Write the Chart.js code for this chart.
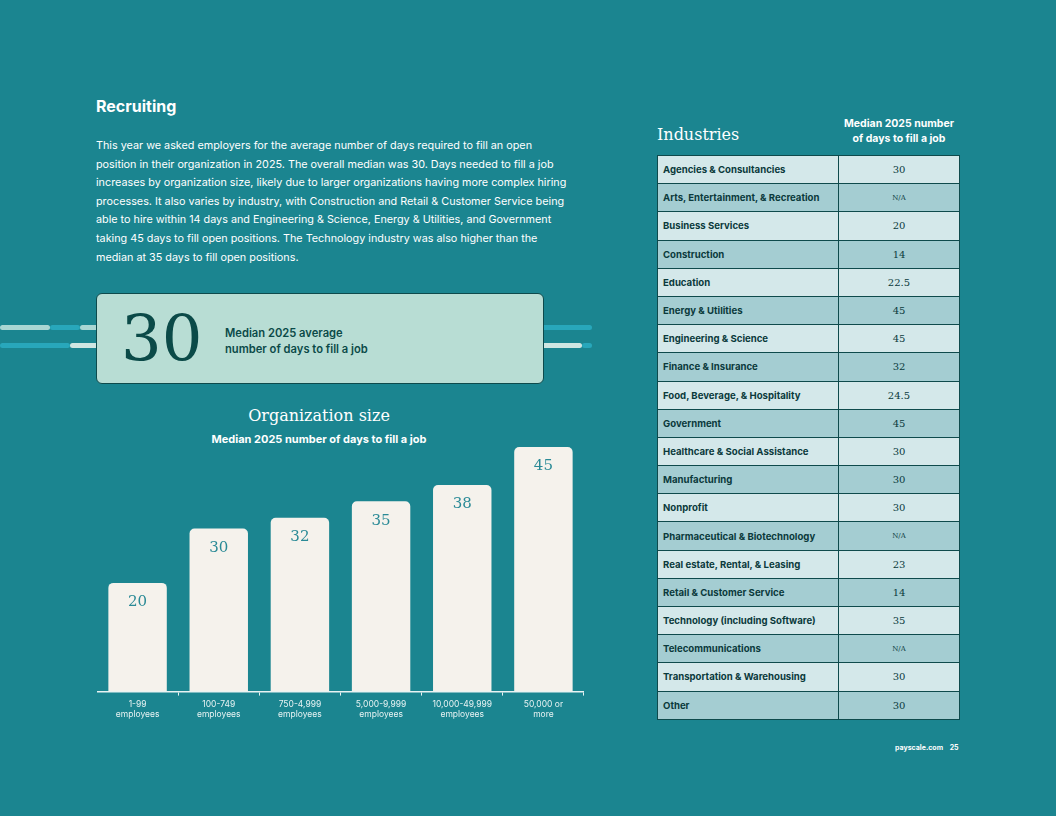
<!DOCTYPE html>
<html><head><meta charset="utf-8">
<script src="https://cdn.jsdelivr.net/npm/chart.js@4"></script>
<style>
  body { margin:0; width:1056px; height:816px; background:#1b8590; font-family:Inter, sans-serif; position:relative; overflow:hidden; }
  .abs { position:absolute; }
  h1 { position:absolute; left:96px; top:96px; margin:0; font-size:16px; color:#fff; font-weight:700; }
  .intro { left:96px; top:137px; white-space:nowrap; color:#fff; font-size:10.8px; line-height:18.6px; }
  .stat { left:96px; top:293px; width:446px; height:89px; background:#b8ddd4; border:1px solid #0e4a4c; border-radius:6px; }
  .stat .big { position:absolute; left:24px; top:8px; font-family:"DejaVu Serif", serif; font-size:64px; color:#0b4a48; }
  .stat .lbl { position:absolute; left:128px; top:31px; font-size:11.2px; font-weight:600; color:#0b4a48; line-height:16px; }
  .line { height:5px; border-radius:3px; }
  .ctitle { left:97px; width:444px; text-align:center; color:#fff; }
  table { position:absolute; left:657px; top:155px; width:303px; border-collapse:collapse; }
  td { border:1px solid #0e4a4c; height:27.2px; padding:0 5px; font-size:9.6px; color:#0b3a3c; }
  td:first-child { font-weight:700; width:170px; }
  td:last-child { text-align:center; font-family:"DejaVu Serif", serif; font-size:10px; }
  td.na { font-size:7px; }
  tr:nth-child(odd) td { background:#d4e8ea; }
  tr:nth-child(even) td { background:#a4cdd2; }
</style></head>
<body>
<h1>Recruiting</h1>
<div class="abs intro">This year we asked employers for the average number of days required to fill an open<br>position in their organization in 2025. The overall median was 30. Days needed to fill a job<br>increases by organization size, likely due to larger organizations having more complex hiring<br>processes. It also varies by industry, with Construction and Retail &amp; Customer Service being<br>able to hire within 14 days and Engineering &amp; Science, Energy &amp; Utilities, and Government<br>taking 45 days to fill open positions. The Technology industry was also higher than the<br>median at 35 days to fill open positions.</div>

<div class="abs line" style="left:0;top:325px;width:50px;background:#a9d6d3"></div>
<div class="abs line" style="left:50px;top:325px;width:30px;background:#28a7bb"></div>
<div class="abs line" style="left:80px;top:325px;width:20px;background:#a9d6d3"></div>
<div class="abs line" style="left:0;top:343px;width:70px;background:#28a7bb"></div>
<div class="abs line" style="left:70px;top:343px;width:30px;background:#cfe6e2"></div>
<div class="abs line" style="left:540px;top:325px;width:52px;background:#28a7bb"></div>
<div class="abs line" style="left:540px;top:343px;width:42px;background:#cfe6e2"></div>
<div class="abs line" style="left:582px;top:343px;width:10px;background:#28a7bb"></div>

<div class="abs stat"><div class="big">30</div><div class="lbl">Median 2025 average<br>number of days to fill a job</div></div>

<div class="abs ctitle" style="top:406px;font-family:'DejaVu Serif',serif;font-size:16px;">Organization size</div>
<div class="abs ctitle" style="top:432px;font-size:11px;font-weight:700;">Median 2025 number of days to fill a job</div>

<div class="abs" style="left:97px;top:447px;width:487px;height:277px;"><canvas id="c"></canvas></div>

<div class="abs" style="left:657px;top:125px;font-family:'DejaVu Serif',serif;font-size:16px;color:#fff;">Industries</div>
<div class="abs" style="left:838px;top:116px;width:122px;text-align:center;color:#fff;font-size:10.5px;font-weight:700;line-height:15px;">Median 2025 number of days to fill a job</div>
<table id="t"></table>

<div class="abs" style="left:895px;top:743px;color:#fff;font-size:7px;font-weight:700;">payscale.com &nbsp;&nbsp; 25</div>

<script>
const sizeLabels = [['1-99','employees'],['100-749','employees'],['750-4,999','employees'],['5,000-9,999','employees'],['10,000-49,999','employees'],['50,000 or','more']];
const sizeDays = [20, 30, 32, 35, 38, 45];

const industries = ['Agencies & Consultancies','Arts, Entertainment, & Recreation','Business Services','Construction','Education','Energy & Utilities','Engineering & Science','Finance & Insurance','Food, Beverage, & Hospitality','Government','Healthcare & Social Assistance','Manufacturing','Nonprofit','Pharmaceutical & Biotechnology','Real estate, Rental, & Leasing','Retail & Customer Service','Technology (including Software)','Telecommunications','Transportation & Warehousing','Other'];
const industryDays = ['30','N/A','20','14','22.5','45','45','32','24.5','45','30','30','30','N/A','23','14','35','N/A','30','30'];

const t = document.getElementById('t');
industries.forEach((name, i) => {
  const tr = document.createElement('tr');
  const a = document.createElement('td'); a.textContent = name;
  const b = document.createElement('td'); b.textContent = industryDays[i];
  if (industryDays[i] === 'N/A') b.className = 'na';
  tr.append(a, b); t.append(tr);
});

const valueLabels = {
  id: 'valueLabels',
  afterDatasetsDraw(chart) {
    const ctx = chart.ctx;
    ctx.save();
    ctx.fillStyle = '#2a8a96';
    ctx.font = '15px "DejaVu Serif", serif';
    ctx.textAlign = 'center';
    ctx.textBaseline = 'top';
    chart.getDatasetMeta(0).data.forEach((bar, i) => ctx.fillText(sizeDays[i], bar.x, bar.y + 12));
    ctx.restore();
  }
};

new Chart(document.getElementById('c'), {
  type: 'bar',
  data: { labels: sizeLabels, datasets: [{ data: sizeDays, backgroundColor: '#f5f2ec', borderRadius: { topLeft: 5, topRight: 5 }, borderSkipped: 'bottom', categoryPercentage: 1, barPercentage: 0.72 }] },
  options: {
    responsive: true, maintainAspectRatio: false, animation: false,
    layout: { padding: 0 },
    plugins: { legend: { display: false }, tooltip: { enabled: false } },
    scales: {
      x: {
        grid: { display: true, offset: true, drawOnChartArea: false, color: '#e8f3f3', tickLength: 4 },
        border: { color: '#e8f3f3', width: 1.5 },
        ticks: { color: '#e8f3f3', font: { family: 'Inter', size: 8.5 }, padding: 4 }
      },
      y: { display: false, min: 0, max: 45 }
    }
  },
  plugins: [valueLabels]
});
</script>
</body></html>
